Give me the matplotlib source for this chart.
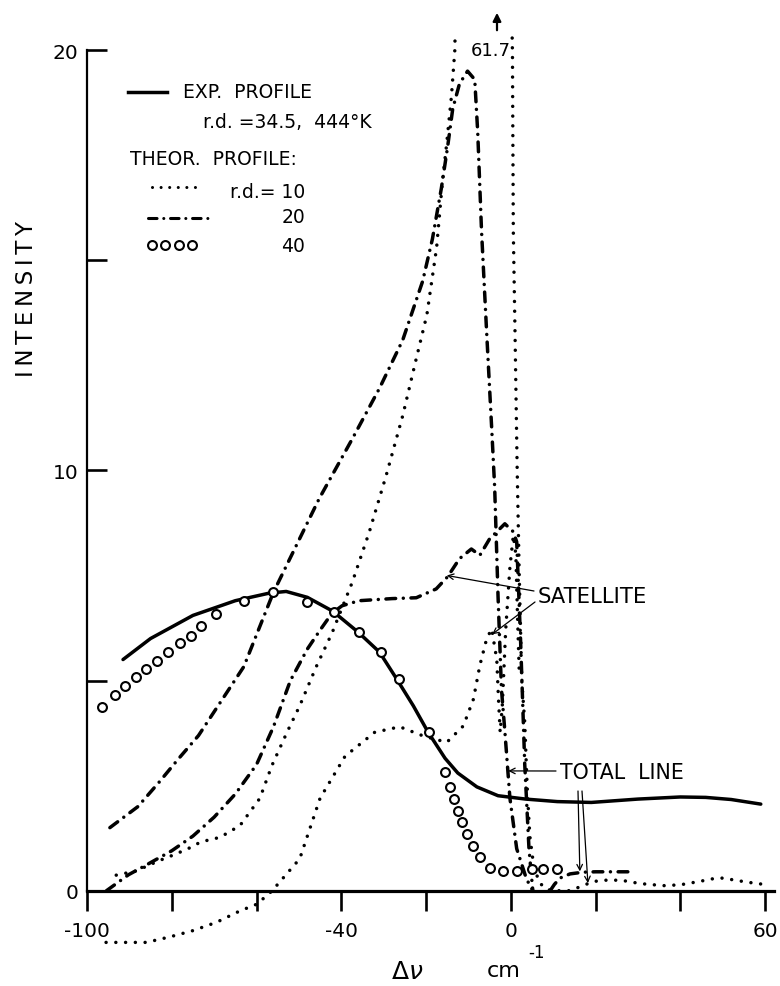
import matplotlib
matplotlib.use('Agg')
import matplotlib.pyplot as plt
from matplotlib.lines import Line2D

plt.rcParams['font.family'] = ['DejaVu Sans']

# ---------------- data ----------------
x_ticks = [-100, -80, -60, -40, -20, 0, 20, 40, 60]
x_tick_labels = ['-100', '', '', '-40', '', '0', '', '', '60']
y_ticks = [0, 5, 10, 15, 20]
y_tick_labels = ['0', '', '10', '', '20']

# experimental profile (solid)
exp_x = [-91.5, -85, -75, -65, -57, -53, -48, -42, -36, -31, -27, -23, -19.5,
         -15.5, -12.5, -8, -3, 3.5, 11, 19, 30, 40, 46, 52, 59]
exp_y = [5.5, 6.0, 6.55, 6.9, 7.08, 7.12, 6.98, 6.65, 6.15, 5.68, 5.05, 4.4, 3.77,
         3.15, 2.8, 2.47, 2.26, 2.18, 2.12, 2.1, 2.18, 2.23, 2.22, 2.17, 2.06]

# theoretical r.d. = 40 (circles)
rd40_x = [-96.5, -93.5, -91, -88.5, -86, -83.5, -81, -78, -75.5, -73, -69.5, -63,
          -56, -48, -41.7, -35.8, -30.6, -26.3, -19.2, -15.6, -14.4, -13.5, -12.5,
          -11.5, -10.3, -8.8, -7.3, -5, -1.9, 1.5, 4.9, 7.5, 10.9]
rd40_y = [4.37, 4.66, 4.87, 5.08, 5.28, 5.46, 5.69, 5.9, 6.07, 6.3, 6.59, 6.9,
          7.1, 6.87, 6.63, 6.15, 5.68, 5.04, 3.77, 2.83, 2.47, 2.17, 1.9,
          1.63, 1.35, 1.07, 0.8, 0.55, 0.46, 0.48, 0.52, 0.52, 0.52]

# theoretical r.d. = 20, total line (dash-dot)
rd20_tot_x = [-94.6, -88, -83, -78.4, -73.7, -63, -56, -45.2, -37.4, -31, -25.5,
              -20.8, -18.5, -16.4, -14.9, -13.7, -12.1, -10.2, -8.5, -7.8, -6.9,
              -5.7, -4.5, -3.8, -3.0, -2.2, -1.4, -0.2, 1.4, 3.7, 5.2]
rd20_tot_y = [1.5, 2.0, 2.58, 3.14, 3.69, 5.33, 7.1, 9.33, 10.75, 11.95, 13.1,
              14.5, 15.5, 16.7, 17.7, 18.6, 19.2, 19.5, 19.3, 18.05, 15.7,
              13.3, 11.0, 9.6, 7.0, 4.8, 3.8, 2.2, 1.0, 0.28, 0.0]
# r.d. = 20, satellite (dash-dot)
rd20_sat_x = [-95.4, -90.2, -85.5, -80, -75, -70, -65, -60, -56, -52, -48, -45,
              -42.2, -39.8, -35.8, -28, -22.3, -17.6, -14.9, -12.1, -9.3, -7.3,
              -5, -1.4, 0.6, 1.4, 2.3, 3.3, 4.3, 5.2]
rd20_sat_y = [0.0, 0.38, 0.64, 0.95, 1.3, 1.75, 2.3, 3.0, 3.9, 5.0, 5.75, 6.2,
              6.6, 6.78, 6.9, 6.95, 6.97, 7.18, 7.47, 7.9, 8.13, 7.98,
              8.37, 8.73, 8.54, 8.3, 6.0, 3.0, 1.0, 0.0]
# r.d. = 20, far wing
rd20_tail_x = [9.3, 10.3, 11.6, 14, 17, 20, 24, 29]
rd20_tail_y = [0.0, 0.15, 0.3, 0.4, 0.44, 0.45, 0.45, 0.45]

# theoretical r.d. = 10, total line (dotted), peak 61.7 off scale
rd10_tot_x = [-93.1, -88.4, -83.1, -79.1, -75.3, -73.2, -68.6, -63.9, -59.2, -56.4,
              -52.8, -49.8, -45.9, -42.1, -37.4, -33.4, -29.4, -25.5, -22.3, -19.8,
              -17.5, -16.1, -15.2, -14.0, -13.2, -6.5, 0.4, 0.6, 1.0, 1.5, 2.0,
              2.6, 3.3, 3.7, 4.0, 4.5, 5.2, 6.4, 7.6, 9.5, 14, 18, 19.5, 22.5,
              26, 30.5, 36, 40, 44.5, 48, 50, 53, 56, 59]
rd10_tot_y = [0.37, 0.47, 0.71, 0.87, 1.04, 1.16, 1.27, 1.55, 2.2, 2.97,
              3.77, 4.4, 5.33, 6.15, 7.34, 8.53, 9.88, 11.3, 12.66, 13.7,
              15.3, 16.9, 17.7, 18.9, 20.0, 61.7, 19.9, 15.7, 13.3, 10.1, 7.5,
              5.0, 4.0, 2.9, 2.2, 1.3, 0.75, 0.28, 0.09, 0.0, 0.0, 0.16, 0.22, 0.25,
              0.25, 0.17, 0.12, 0.14, 0.22, 0.29, 0.3, 0.25, 0.2, 0.16]
# r.d. = 10, satellite (dotted)
rd10_sat_x = [-95.5, -86, -80.5, -75, -69.4, -63.9, -59.9, -56.3, -49.8, -45, -39.1,
              -32.1, -26.2, -20.6, -15.1, -11.2, -8.8, -7.3, -5.7, -4.5, -3.3,
              -2.9, -2.5, -2.0, -1.2, -0.2, 0.6, 1.2, 1.6, 2.0]
rd10_sat_y = [-1.23, -1.23, -1.1, -0.95, -0.75, -0.48, -0.32, 0.0, 0.76, 2.2, 3.2,
              3.77, 3.9, 3.68, 3.53, 3.92, 4.56, 5.36, 5.99, 6.23, 5.5,
              4.56, 3.77, 4.4, 6.2, 7.7, 8.45, 8.0, 6.5, 5.2]

# ---------------- figure ----------------
W, H = 780, 987
fig = plt.figure(figsize=(W / 100, H / 100), dpi=100)


def fx(px):
    return px / W


def fy(py):
    return 1 - py / H


ax = fig.add_axes([fx(87), fy(958.95), 686.5 / W, (958.95 - 34.3) / H])
ax.set_xlim(-100, 62)
ax.set_ylim(-1.6, 20.4)
for s in ['top', 'right']:
    ax.spines[s].set_visible(False)
ax.spines['bottom'].set_position(('data', 0))
ax.spines['left'].set_bounds(0, 20)
ax.spines['left'].set_linewidth(1.6)
ax.spines['bottom'].set_linewidth(2.3)
ax.set_xticks(x_ticks)
ax.set_xticklabels(x_tick_labels)
ax.set_yticks(y_ticks)
ax.set_yticklabels(y_tick_labels)
ax.tick_params(axis='x', direction='out', length=14.5, width=1.9, pad=7,
               labelsize=14.5)
ax.tick_params(axis='y', direction='in', length=14.5, width=1.9, pad=6,
               labelsize=14.5)

LW = 2.5
DOT = (0, (0.01, 2.8))
DASHDOT = (0, (2.8, 2.2, 0.01, 2.2))

ax.plot(exp_x, exp_y, color='black', lw=2.5, solid_capstyle='round', zorder=3)
ax.plot(rd10_tot_x, rd10_tot_y, color='black', lw=LW, linestyle=DOT,
        dash_capstyle='round', zorder=2)
ax.plot(rd10_sat_x, rd10_sat_y, color='black', lw=LW, linestyle=DOT,
        dash_capstyle='round', zorder=2)
ax.plot(rd20_tot_x, rd20_tot_y, color='black', lw=LW, linestyle=DASHDOT,
        dash_capstyle='round', zorder=2)
ax.plot(rd20_sat_x, rd20_sat_y, color='black', lw=LW, linestyle=DASHDOT,
        dash_capstyle='round', zorder=2)
ax.plot(rd20_tail_x, rd20_tail_y, color='black', lw=LW, linestyle=DASHDOT,
        dash_capstyle='round', zorder=2)
ax.plot(rd40_x, rd40_y, linestyle='none', marker='o', markersize=6.4,
        markerfacecolor='white', markeredgecolor='black', markeredgewidth=1.5,
        zorder=4)

# ---------------- legend (hand-drawn style) ----------------
fs_leg = 13.5
fig.add_artist(Line2D([fx(128), fx(167)], [fy(93), fy(93)], color='black', lw=2.5))
fig.text(fx(183), fy(92), 'EXP.  PROFILE', ha='left', va='center', fontsize=fs_leg)
fig.text(fx(203), fy(123), 'r.d. =34.5,  444°K', ha='left', va='center',
         fontsize=fs_leg)
fig.text(fx(130), fy(160), 'THEOR.  PROFILE:', ha='left', va='center', fontsize=fs_leg)
fig.add_artist(Line2D([fx(152), fx(200)], [fy(188), fy(188)], color='black', lw=2.2,
                      linestyle=DOT, dash_capstyle='round'))
fig.text(fx(305), fy(192), 'r.d.= 10', ha='right', va='center', fontsize=fs_leg)
fig.add_artist(Line2D([fx(148), fx(210)], [fy(219), fy(219)], color='black', lw=2.2,
                      linestyle=DASHDOT, dash_capstyle='round'))
fig.text(fx(305), fy(218), '20', ha='right', va='center', fontsize=fs_leg)
fig.add_artist(Line2D([fx(152), fx(165), fx(179), fx(192)], [fy(246)] * 4,
                      linestyle='none', marker='o', markersize=6.4,
                      markerfacecolor='white', markeredgecolor='black',
                      markeredgewidth=1.5))
fig.text(fx(305), fy(247), '40', ha='right', va='center', fontsize=fs_leg)

# ---------------- annotations ----------------
arr = dict(arrowstyle='->', lw=0.9, color='black', shrinkA=0, shrinkB=0,
           mutation_scale=10)
fig.text(fx(538), fy(597), 'SATELLITE', ha='left', va='center', fontsize=15.2)
ax.annotate('', xy=(-15.1, 7.5), xycoords='data', xytext=(fx(534), fy(592)),
            textcoords='figure fraction', arrowprops=arr)
ax.annotate('', xy=(-4.4, 6.1), xycoords='data', xytext=(fx(535), fy(603)),
            textcoords='figure fraction', arrowprops=arr)

fig.text(fx(560), fy(773), 'TOTAL  LINE', ha='left', va='center', fontsize=14.8)
ax.annotate('', xy=(-0.6, 2.85), xycoords='data', xytext=(fx(556), fy(772)),
            textcoords='figure fraction', arrowprops=arr)
ax.annotate('', xy=(16.3, 0.46), xycoords='data', xytext=(fx(578), fy(792)),
            textcoords='figure fraction', arrowprops=arr)
ax.annotate('', xy=(18.2, 0.18), xycoords='data', xytext=(fx(582), fy(792)),
            textcoords='figure fraction', arrowprops=arr)

fig.text(fx(491), fy(51), '61.7', ha='center', va='center', fontsize=13)
fig.add_artist(matplotlib.patches.FancyArrowPatch(
    (fx(497), fy(34)), (fx(497), fy(11)), transform=fig.transFigure,
    arrowstyle='-|>', mutation_scale=12, lw=1.6, color='black'))

# axis titles
fig.text(fx(27), fy(299), '\u2009'.join('INTENSITY'), rotation=90, ha='center',
         va='center', fontsize=16.5)
fig.text(fx(407), fy(972), r'$\Delta\nu$', ha='center', va='center', fontsize=18)
fig.text(fx(487), fy(971), 'cm', ha='left', va='center', fontsize=16)
fig.text(fx(528), fy(953), '-1', ha='left', va='center', fontsize=12)

fig.savefig('out.png', dpi=100)
